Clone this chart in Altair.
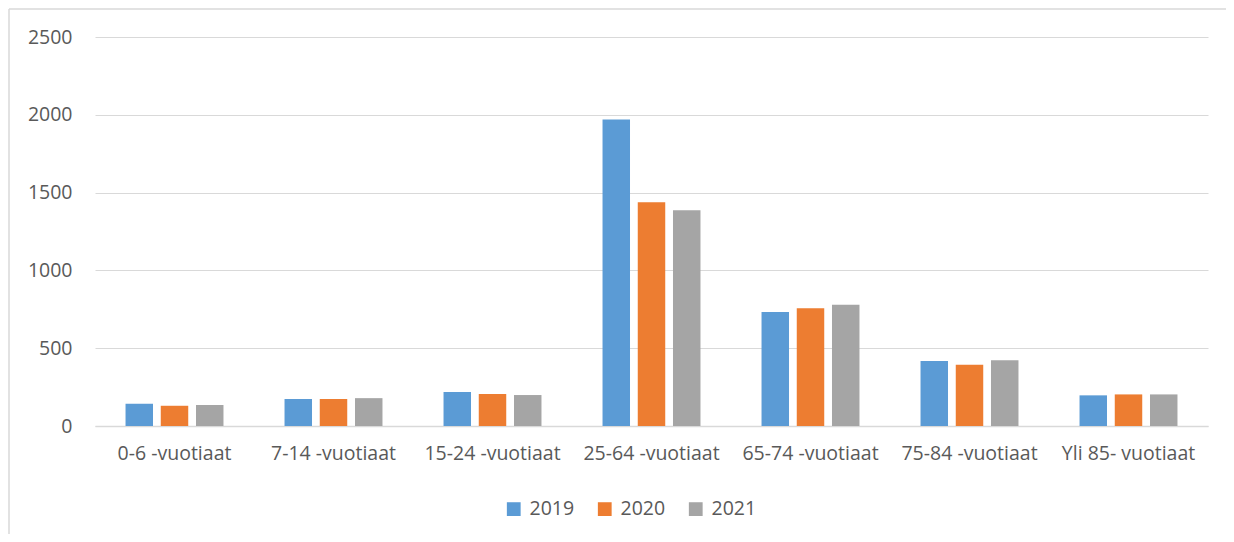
import altair as alt
import pandas as pd

categories = ["0-6 -vuotiaat", "7-14 -vuotiaat", "15-24 -vuotiaat", "25-64 -vuotiaat",
              "65-74 -vuotiaat", "75-84 -vuotiaat", "Yli 85- vuotiaat"]
years = ["2019", "2020", "2021"]
v2019 = [143, 173, 218, 1970, 732, 418, 197]
v2020 = [130, 173, 206, 1438, 757, 393, 203]
v2021 = [135, 179, 199, 1386, 779, 422, 203]

rows = []
for yr, vals in zip(years, [v2019, v2020, v2021]):
    for c, v in zip(categories, vals):
        rows.append({"cat": c, "year": yr, "value": v})
df = pd.DataFrame(rows)

W, H = 1113, 389
FONT = "Open Sans"
FS = 19.5

bars = alt.Chart(df).mark_bar().encode(
    x=alt.X("cat:N", sort=categories, title=None,
            scale=alt.Scale(paddingInner=0.384, paddingOuter=0.192),
            axis=alt.Axis(labelAngle=0, labelFontSize=FS, labelColor="#595959",
                          labelFont=FONT, labelPadding=18, ticks=False,
                          domainColor="#d9d9d9", domainWidth=1.5, grid=False)),
    xOffset=alt.XOffset("year:N", sort=years,
                        scale=alt.Scale(paddingInner=0.22, paddingOuter=0)),
    y=alt.Y("value:Q", title=None,
            scale=alt.Scale(domain=[0, 2500]),
            axis=alt.Axis(values=[0, 500, 1000, 1500, 2000, 2500], format="d",
                          labelFontSize=FS, labelColor="#595959", labelFont=FONT,
                          labelPadding=23, ticks=False, domain=False,
                          gridColor="#d9d9d9", gridWidth=1.2)),
    color=alt.Color("year:N", sort=years,
                    scale=alt.Scale(domain=years, range=["#5b9bd5", "#ed7d31", "#a5a5a5"]),
                    legend=alt.Legend(title=None, orient="none", direction="horizontal",
                                      legendX=409, legendY=462, symbolType="square",
                                      symbolSize=190, symbolStrokeWidth=0,
                                      labelFontSize=FS, labelColor="#595959",
                                      labelFont=FONT, columnPadding=20, labelOffset=6)),
)

one = pd.DataFrame({"a": [0]})
top_line = alt.Chart(one).mark_rule(color="#d9d9d9", strokeWidth=1.5).encode(
    x=alt.value(-86), x2=alt.value(1131), y=alt.value(-28))
left_line = alt.Chart(one).mark_rule(color="#d9d9d9", strokeWidth=1.5).encode(
    x=alt.value(-86), y=alt.value(-28), y2=alt.value(497))

chart = alt.layer(top_line, left_line, bars).properties(
    width=W, height=H,
    autosize=alt.AutoSizeParams(type="none"),
    padding={"left": 87, "top": 29, "right": 18, "bottom": 108},
).configure(background="white", view=alt.ViewConfig(stroke=None))

chart.save("out.html", embed_options={"renderer": "svg", "actions": False})
